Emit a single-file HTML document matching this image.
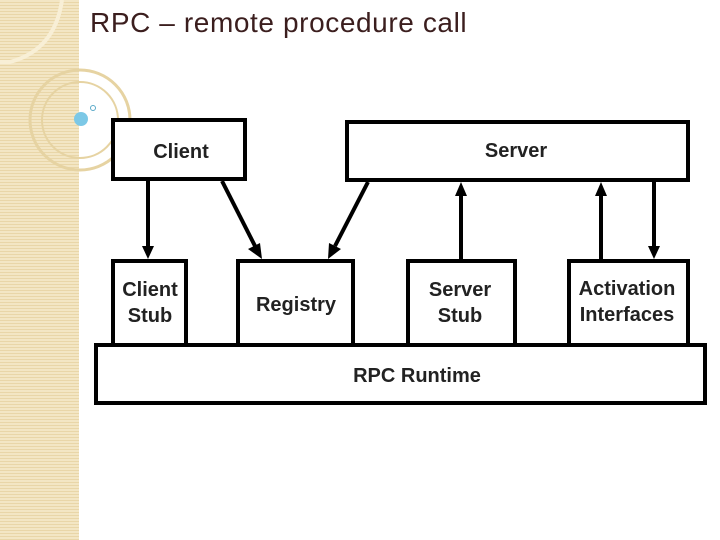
<!DOCTYPE html>
<html><head><style>
body{margin:0;width:720px;height:540px;background:#fff;position:relative;overflow:hidden;font-family:"Liberation Sans",sans-serif}
#strip{position:absolute;left:0;top:0;width:79px;height:540px;background:repeating-linear-gradient(180deg,#f3e6c4 0 2px,#e9d6a8 2px 3px)}
#title{position:absolute;left:90px;top:7px;font-size:28px;color:#3b1e1e;letter-spacing:0.6px}
</style></head><body>
<div id="strip"></div>
<svg width="720" height="540" style="position:absolute;left:0;top:0">
<path d="M62 0 Q55 50 10 62 L0 62" fill="none" stroke="#f8efd6" stroke-width="4"/>
<circle cx="80" cy="120" r="50" fill="none" stroke="#e6d3a2" stroke-width="3"/>
<circle cx="80" cy="120" r="38" fill="none" stroke="#e6d3a2" stroke-width="2"/>
<circle cx="81" cy="119" r="7" fill="#7cc8e6"/>
<circle cx="93" cy="108" r="2.5" fill="#fff" stroke="#5aa9c8" stroke-width="1"/>
<g fill="#fff" stroke="#000" stroke-width="4">
<rect x="96" y="345" width="609" height="58"/>
<rect x="113" y="120" width="132" height="59"/>
<rect x="347" y="122" width="341" height="58"/>
<rect x="113" y="261" width="73" height="84"/>
<rect x="238" y="261" width="115" height="84"/>
<rect x="408" y="261" width="107" height="84"/>
<rect x="569" y="261" width="119" height="84"/>
</g>
<g stroke="#000" stroke-width="4">
<line x1="148" y1="181" x2="148" y2="250"/>
<line x1="222" y1="181" x2="255" y2="246"/>
<line x1="368" y1="182" x2="335" y2="246"/>
<line x1="461" y1="259" x2="461" y2="192"/>
<line x1="601" y1="259" x2="601" y2="192"/>
<line x1="654" y1="182" x2="654" y2="250"/>
</g>
<g fill="#000">
<polygon points="142,246 154,246 148,259"/>
<polygon points="248,249 260,243 262,259"/>
<polygon points="329,243 341,249 328,259"/>
<polygon points="455,196 467,196 461,182"/>
<polygon points="595,196 607,196 601,182"/>
<polygon points="648,246 660,246 654,259"/>
</g>
<g font-family="Liberation Sans,sans-serif" font-weight="bold" font-size="20" fill="#222" text-anchor="middle">
<text x="181" y="158">Client</text>
<text x="516" y="157">Server</text>
<text x="150" y="296">Client</text>
<text x="150" y="322">Stub</text>
<text x="296" y="311">Registry</text>
<text x="460" y="296">Server</text>
<text x="460" y="322">Stub</text>
<text x="627" y="295">Activation</text>
<text x="627" y="321">Interfaces</text>
<text x="417" y="382">RPC Runtime</text>
</g>
</svg>
<div id="title">RPC – remote procedure call</div>
</body></html>
